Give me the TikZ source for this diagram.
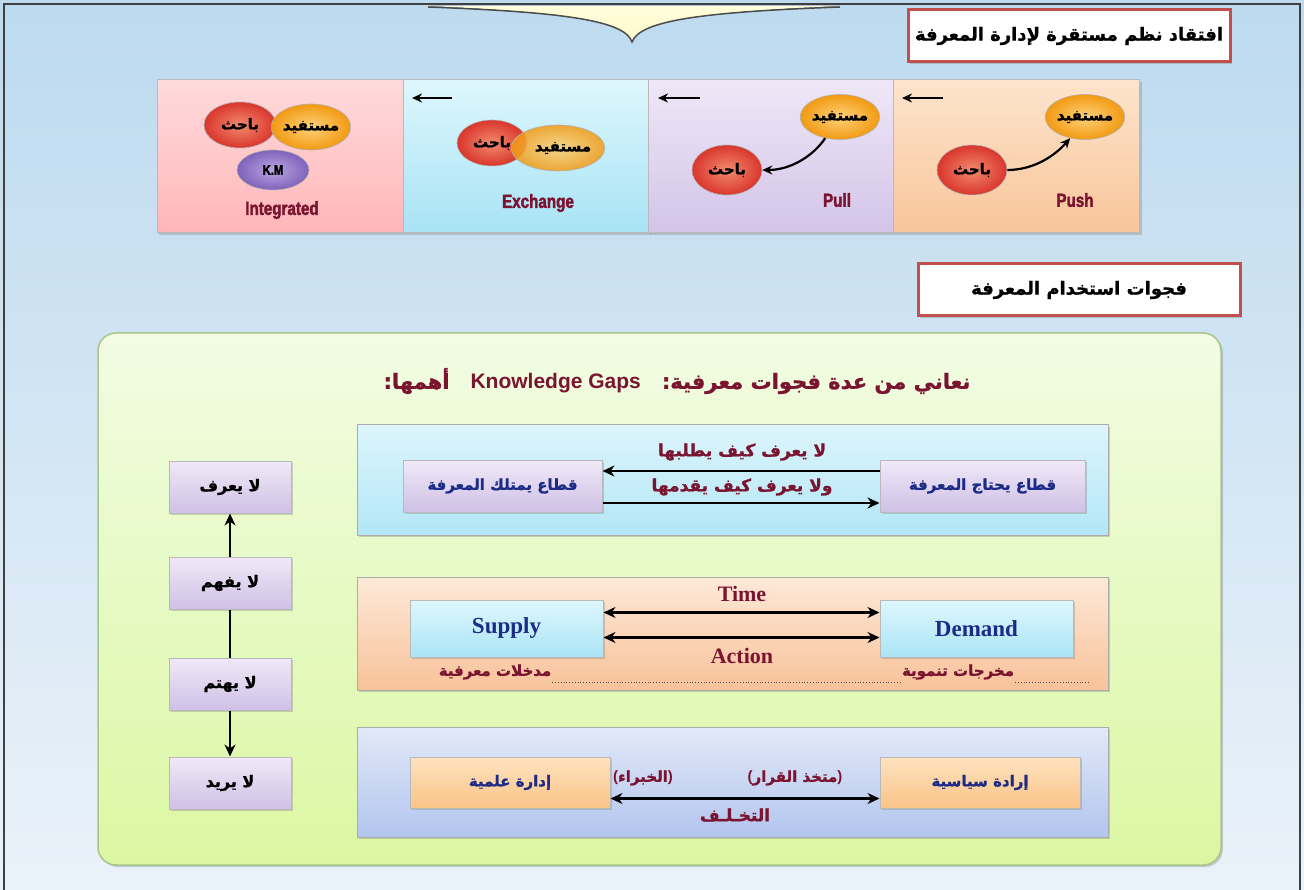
\documentclass[tikz,border=0pt]{standalone}
\usepackage{fontspec}
\setmainfont{Liberation Serif}
\newfontfamily\arabicfont[Script=Arabic,FakeBold=1.2]{DejaVu Sans}
\newfontfamily\lsans{Liberation Sans}
\newfontfamily\heavyfont[FakeBold=2,FakeStretch=0.8]{Liberation Sans}
\TeXXeTstate=1
\usetikzlibrary{shapes.geometric,arrows.meta,shadows}
\newcommand\artxt[1]{{\arabicfont\bfseries\beginR #1\endR}}
\newcommand\fsz[1]{\fontsize{#1}{#1}\selectfont}
\newcommand\defhex[1]{\definecolor{h#1}{HTML}{#1}}
\defhex{F0E9F8}\defhex{CFC0E5}\defhex{FFDADB}\defhex{FFB6BA}\defhex{DEF7FD}\defhex{A8E3F5}
\defhex{EFE7F7}\defhex{D3C4E8}\defhex{FDE4CC}\defhex{F8C59A}\defhex{F1FCE3}\defhex{DCF7A3}
\defhex{DCF5FC}\defhex{B3E6F6}\defhex{FDE9D8}\defhex{F8C29A}\defhex{AAE4F5}\defhex{E2E9F8}
\defhex{B2C5EE}\defhex{FEE2C0}\defhex{F9C487}\defhex{A9C58C}
\definecolor{skytop}{HTML}{BDDAEF}
\definecolor{skybot}{HTML}{EAF2F9}
\definecolor{titlered}{HTML}{C0504D}
\definecolor{maroon}{HTML}{7A1430}
\definecolor{navy}{HTML}{1C2B86}
\definecolor{redball}{HTML}{D9362C}
\definecolor{redhi}{HTML}{F28A6E}
\definecolor{orball}{HTML}{F29A12}
\definecolor{orhi}{HTML}{FDD27A}
\definecolor{puball}{HTML}{7F62BA}
\definecolor{puhi}{HTML}{B9A6E4}
\definecolor{yel}{HTML}{FFFBCB}
\begin{document}
\begin{tikzpicture}[x=1pt,y=-1pt,
  shad/.style={drop shadow={opacity=0.35,shadow xshift=2pt,shadow yshift=-2pt}},
  titlebox/.style={draw=titlered,line width=3pt,fill=white,minimum width=322pt,minimum height=52pt,inner sep=0pt,shad,font=\fsz{18}},
  tpanel/.style={draw=gray!55,line width=1pt,minimum width=246pt,minimum height=153pt,inner sep=0pt,shad},
  ballnode/.style={ellipse,inner sep=0pt,minimum width=72pt,minimum height=46pt,font=\fsz{15},draw=black!30,line width=0.6pt},
  redb/.style={ballnode,shading=radial,inner color=redhi,outer color=redball},
  orb/.style={ballnode,shading=radial,inner color=orhi,outer color=orball},
  pub/.style={ballnode,shading=radial,inner color=puhi,outer color=puball},
  tlab/.style={text=maroon,font=\heavyfont\bfseries\fsz{19}},
  rowbox/.style={draw=gray!65,line width=1pt,minimum width=751pt,minimum height=110pt,inner sep=0pt,shad},
  ibox/.style={draw=gray!55,line width=1pt,minimum height=52pt,inner sep=0pt,shad},
  lav/.style={top color=hF0E9F8,bottom color=hCFC0E5},
  arr/.style={line width=2.8pt,-{Stealth[length=12pt,width=11pt]}},
  darr/.style={line width=2.8pt,{Stealth[length=12pt,width=11pt]}-{Stealth[length=12pt,width=11pt]}},
  tarr/.style={line width=2.2pt,-{Stealth[length=10pt,width=9pt]}}
]
\useasboundingbox (0,0) rectangle (1304,890);
\fill[top color=skytop,bottom color=skybot] (0,0) rectangle (1304,890);
% frame
\draw[line width=2.6pt,black!75] (4,895) -- (4,4) -- (1300,4) -- (1300,895);
% yellow callout bottom
\fill[top color=yel!70!white,bottom color=yel] (428,6) .. controls (560,12) and (625,20) .. (632,42) .. controls (640,20) and (705,12) .. (840,6) -- cycle;
\draw[line width=1.5pt,black!70] (428,7) .. controls (560,12) and (625,20) .. (632,42) .. controls (640,20) and (705,12) .. (840,7);
% titles
\node[titlebox] (t1) at (1069,36) {\artxt{افتقاد نظم مستقرة لإدارة المعرفة}};
\node[titlebox] (t2) at (1079,290) {\artxt{فجوات استخدام المعرفة}};
% top panels
\node[tpanel,top color=hFFDADB,bottom color=hFFB6BA] (p1) at (280,156.5) {};
\node[tpanel,top color=hDEF7FD,bottom color=hA8E3F5] (p2) at (526,156.5) {};
\node[tpanel,top color=hEFE7F7,bottom color=hD3C4E8] (p3) at (771,156.5) {};
\node[tpanel,top color=hFDE4CC,bottom color=hF8C59A] (p4) at (1016.5,156.5) {};
% integrated
\node[redb] (r1) at (240,125) {\artxt{باحث}};
\node[orb] (o1) at (311,127) {\artxt{مستفيد}};
\node[pub,minimum height=40pt] (k1) at (273,170) {\heavyfont\bfseries\fsz{14}K.M};
\node[tlab] (l1) at (282,210) {Integrated};
% exchange
\node[redb,minimum width=70pt] (r2) at (492,143) {\artxt{باحث}};
\node[orb,fill opacity=0.85,text opacity=1,minimum width=77pt] (o2) at (558,148) {\hspace*{10pt}\artxt{مستفيد}};
\node[tlab] (l2) at (538,203) {Exchange};
% pull
\node[orb,minimum width=66pt,minimum height=45pt] (o3) at (840,117) {\artxt{مستفيد}};
\node[redb,minimum width=70pt,minimum height=50pt] (r3) at (727,170) {\artxt{باحث}};
\node[tlab] (l3) at (837,200) {Pull};
\draw[tarr] (o3.235) .. controls +(-12,18) and +(28,0) .. (r3.east);
% push
\node[orb,minimum width=66pt,minimum height=45pt] (o4) at (1085,117) {\artxt{مستفيد}};
\node[redb,minimum width=70pt,minimum height=50pt] (r4) at (972,170) {\artxt{باحث}};
\node[tlab] (l4) at (1075,200) {Push};
\draw[tarr] (r4.east) .. controls +(28,0) and +(-14,16) .. (o4.235);
% short arrows
\coordinate (a1s) at (452,98); \coordinate (a1e) at (412,98);
\coordinate (a2s) at (700,98); \coordinate (a2e) at (658,98);
\coordinate (a3s) at (943,98); \coordinate (a3e) at (902,98);
\draw[tarr] (a1s) -- (a1e);
\draw[tarr] (a2s) -- (a2e);
\draw[tarr] (a3s) -- (a3e);
% green panel
\node[draw=hA9C58C,line width=1.5pt,rounded corners=18pt,minimum width=1123pt,minimum height=532pt,inner sep=0pt,top color=hF1FCE3,bottom color=hDCF7A3,shad] (gp) at (659.5,599) {};
\node[text=maroon,font=\fsz{21}] (head) at (677,381) {\artxt{نعاني من عدة فجوات معرفية:\quad{\lsans\bfseries\beginL Knowledge Gaps\endL}\quad أهمها:}};
% row 1
\node[rowbox,top color=hDCF5FC,bottom color=hB3E6F6] (row1) at (732.5,480) {};
\node[ibox,lav,minimum width=199pt,text=navy,font=\fsz{15}] (r1L) at (502.5,486) {\artxt{قطاع يمتلك المعرفة}};
\node[ibox,lav,minimum width=205pt,text=navy,font=\fsz{15}] (r1R) at (982.5,486) {\artxt{قطاع يحتاج المعرفة}};
\draw[arr] ([yshift=15pt]r1R.west) -- ([yshift=15pt]r1L.east);
\draw[arr] ([yshift=-17pt]r1L.east) -- ([yshift=-17pt]r1R.west);
\node[text=maroon,font=\fsz{17}] (g1a) at (742,452) {\artxt{لا يعرف كيف يطلبها}};
\node[text=maroon,font=\fsz{17}] (g1b) at (742,487) {\artxt{ولا يعرف كيف يقدمها}};
% row 2
\node[rowbox,minimum height=113pt,top color=hFDE9D8,bottom color=hF8C29A] (row2) at (732.5,633.5) {};
\node[ibox,minimum width=193pt,minimum height=57pt,top color=hDEF7FD,bottom color=hAAE4F5,text=navy,font=\bfseries\fsz{23}] (sup) at (506.5,628.5) {Supply};
\node[ibox,minimum width=193pt,minimum height=57pt,top color=hDEF7FD,bottom color=hAAE4F5,text=navy,font=\bfseries\fsz{23}] (dem) at (976.5,628.5) {Demand};
\draw[darr] ([yshift=16pt]sup.east) -- ([yshift=16pt]dem.west);
\draw[darr] ([yshift=-9pt]sup.east) -- ([yshift=-9pt]dem.west);
\node[text=maroon,font=\bfseries\fsz{22}] (time) at (742,594) {Time};
\node[text=maroon,font=\bfseries\fsz{22}] (act) at (742,656) {Action};
\node[text=maroon,font=\fsz{15},inner sep=1pt] (inp) at (495,672) {\artxt{مدخلات معرفية}};
\node[text=maroon,font=\fsz{15},inner sep=1pt] (outp) at (958,672) {\artxt{مخرجات تنموية}};
\coordinate (dotend) at (1090,682);
\draw[dotted,line width=0.8pt,black!70] (inp.south east |- dotend) -- (outp.south west |- dotend);
\draw[dotted,line width=0.8pt,black!70] (outp.south east |- dotend) -- (dotend);
% row 3
\node[rowbox,top color=hE2E9F8,bottom color=hB2C5EE] (row3) at (732.5,782) {};
\node[ibox,minimum width=200pt,minimum height=51pt,top color=hFEE2C0,bottom color=hF9C487,text=navy,font=\fsz{15}] (sci) at (510,782.5) {\artxt{إدارة علمية}};
\node[ibox,minimum width=200pt,minimum height=51pt,top color=hFEE2C0,bottom color=hF9C487,text=navy,font=\fsz{15}] (pol) at (980,782.5) {\artxt{إرادة سياسية}};
\draw[darr] ([yshift=-16pt]sci.east) -- ([yshift=-16pt]pol.west);
\node[text=maroon,font=\fsz{15}] (exp) at (643,778) {{\lsans\bfseries(}\artxt{الخبراء}{\lsans\bfseries)}};
\node[text=maroon,font=\fsz{15}] (dec) at (795,778) {{\lsans\bfseries(}\artxt{متخذ القرار}{\lsans\bfseries)}};
\node[text=maroon,font=\fsz{17}] (und) at (735,815) {\artxt{التخـلـف}};
% left column
\node[ibox,lav,minimum width=122pt,font=\fsz{16}] (c1) at (230,487) {\artxt{لا يعرف}};
\node[ibox,lav,minimum width=122pt,font=\fsz{16}] (c2) at (230,583) {\artxt{لا يفهم}};
\node[ibox,lav,minimum width=122pt,font=\fsz{16}] (c3) at (230,684) {\artxt{لا يهتم}};
\node[ibox,lav,minimum width=122pt,font=\fsz{16}] (c4) at (230,783) {\artxt{لا يريد}};
\draw[arr] (c2.north) -- (c1.south);
\draw[line width=2.8pt] (c2.south) -- (c3.north);
\draw[arr] (c3.south) -- (c4.north);
\end{tikzpicture}
\end{document}
